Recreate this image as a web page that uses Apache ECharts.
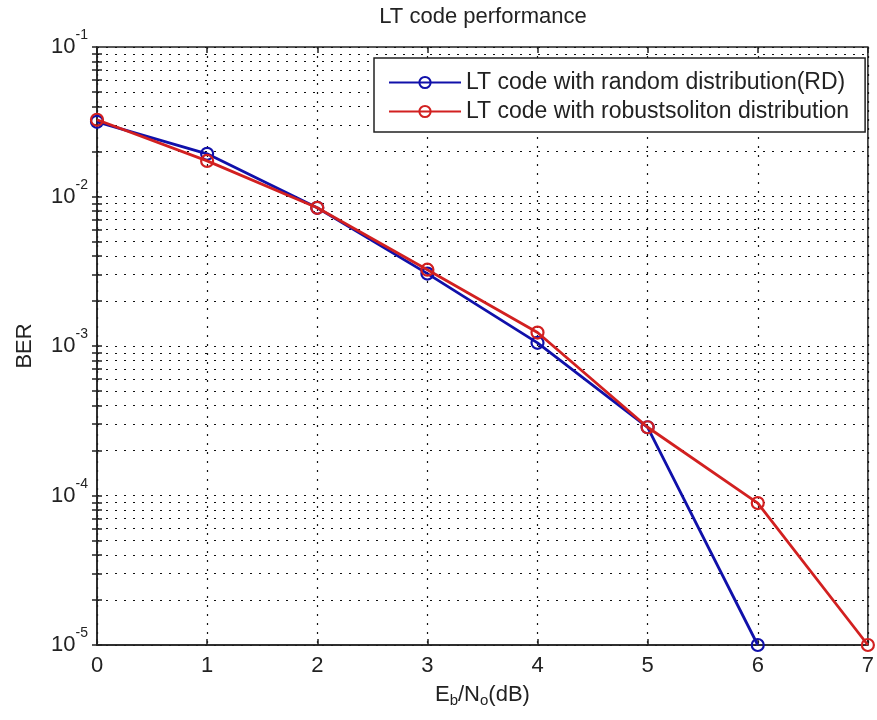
<!DOCTYPE html>
<html>
<head>
<meta charset="utf-8">
<title>LT code performance</title>
<script src="https://cdn.jsdelivr.net/npm/echarts@6/dist/echarts.min.js"></script>
<style>
  html, body { margin: 0; padding: 0; background: #fff; }
  #chart { width: 877px; height: 720px; }
</style>
</head>
<body>
<div id="chart"></div>
<script>
// Eb/No (dB) and BER
var ebno = [0, 1, 2, 3, 4, 5, 6, 7]
var berRandom = [0.0316, 0.0193, 0.0084, 0.00305, 0.00105, 0.000286, 0.00001]
var berRobust = [0.0326, 0.0173, 0.0084, 0.00324, 0.00123, 0.000286, 0.000089, 0.00001]
var seriesNames = ['LT code with random distribution(RD)', 'LT code with robustsoliton distribution']
var decades = [1e-5, 1e-4, 1e-3, 1e-2, 1e-1]
var minorSteps = [2, 3, 4, 5, 6, 7, 8, 9]

var FONT = '"Liberation Sans", Arial, sans-serif'
var BLUE = '#1010aa'
var RED = '#d22020'
var INK = '#222'
var DOTS = [2, 7]

// minor log grid values (2..9 inside each decade)
var minorVals = []
for (var i = 0; i < decades.length - 1; i++) {
  for (var j = 0; j < minorSteps.length; j++) {
    minorVals.push(+(minorSteps[j] * decades[i]).toPrecision(3))
  }
}
var yTickVals = decades.concat(minorVals)

function pairs(xs, ys) {
  return ys.map(function (y, i) { return [xs[i], y] })
}

var chart = echarts.init(document.getElementById('chart'))

var expRich = {
  b: { fontSize: 22, color: INK, fontFamily: FONT, lineHeight: 22 },
  s: { fontSize: 14, color: INK, fontFamily: FONT, lineHeight: 14, padding: [0, 0, 23, 0] }
}
var gridLine = { color: '#111', width: 1.2, type: DOTS }

chart.setOption({
  backgroundColor: '#fff',
  animation: false,
  title: {
    text: 'LT code performance',
    left: 483,
    textAlign: 'center',
    top: 6,
    padding: 0,
    textStyle: { fontSize: 22, fontWeight: 'normal', color: INK, fontFamily: FONT }
  },
  grid: {
    left: 97,
    right: 7,
    top: 47,
    bottom: 75,
    show: true,
    borderColor: INK,
    borderWidth: 1.5,
    backgroundColor: '#fff'
  },
  legend: {
    orient: 'vertical',
    left: 374,
    top: 58,
    itemWidth: 72,
    itemHeight: 14,
    itemGap: 6,
    padding: [13, 16, 9, 14],
    borderColor: INK,
    borderWidth: 1.5,
    backgroundColor: '#fff',
    textStyle: { fontSize: 23, color: INK, fontFamily: FONT },
    data: seriesNames
  },
  xAxis: [
    {
      type: 'value',
      min: 0,
      max: 7,
      interval: 1,
      name: '{n|E}{sub|b}{n|/N}{sub|o}{n|(dB)}',
      nameLocation: 'middle',
      nameGap: 36,
      nameTextStyle: {
        rich: {
          n: { fontSize: 22, color: INK, fontFamily: FONT },
          sub: { fontSize: 15, color: INK, fontFamily: FONT, padding: [12, 0, 0, 0] }
        }
      },
      axisLine: { show: true, lineStyle: { color: INK, width: 1.5 } },
      axisTick: { inside: true, length: 6, lineStyle: { color: INK, width: 1.5 } },
      axisLabel: { fontSize: 22, color: INK, fontFamily: FONT, margin: 10 },
      splitLine: { show: true, lineStyle: gridLine }
    },
    {
      type: 'value',
      position: 'top',
      min: 0,
      max: 7,
      interval: 1,
      axisLine: { show: false },
      axisTick: { inside: true, length: 6, lineStyle: { color: INK, width: 1.5 } },
      axisLabel: { show: false },
      splitLine: { show: false }
    }
  ],
  yAxis: [
    {
      type: 'log',
      logBase: 10,
      min: 1e-5,
      max: 1e-1,
      name: 'BER',
      nameLocation: 'middle',
      nameGap: 61,
      nameTextStyle: { fontSize: 22, color: INK, fontFamily: FONT },
      axisLine: { show: true, lineStyle: { color: INK, width: 1.5 } },
      axisTick: { inside: true, length: 5, customValues: yTickVals, lineStyle: { color: INK, width: 1.5 } },
      axisLabel: {
        margin: 9,
        formatter: function (v) {
          return '{b|10}{s|' + Math.round(Math.log10(v)) + '}'
        },
        rich: expRich
      },
      splitLine: { show: true, lineStyle: gridLine }
    },
    {
      type: 'log',
      logBase: 10,
      min: 1e-5,
      max: 1e-1,
      position: 'right',
      axisLine: { show: false },
      axisTick: { inside: true, length: 5, customValues: yTickVals, lineStyle: { color: INK, width: 1.5 } },
      axisLabel: { show: false },
      splitLine: { show: false }
    }
  ],
  series: [
    {
      name: seriesNames[0],
      type: 'line',
      data: pairs(ebno, berRandom),
      color: BLUE,
      symbol: 'circle',
      symbolSize: 12,
      clip: false,
      z: 3,
      lineStyle: { color: BLUE, width: 2.8 },
      itemStyle: { color: 'rgba(255,255,255,0)', borderColor: BLUE, borderWidth: 2.2 },
      markLine: {
        silent: true,
        z: 1,
        symbol: ['none', 'none'],
        label: { show: false },
        lineStyle: gridLine,
        data: minorVals.map(function (v) { return { yAxis: v } })
      }
    },
    {
      name: seriesNames[1],
      type: 'line',
      data: pairs(ebno, berRobust),
      color: RED,
      symbol: 'circle',
      symbolSize: 12,
      clip: false,
      z: 4,
      lineStyle: { color: RED, width: 2.8 },
      itemStyle: { color: 'rgba(255,255,255,0)', borderColor: RED, borderWidth: 2.2 }
    }
  ]
})
</script>
</body>
</html>
